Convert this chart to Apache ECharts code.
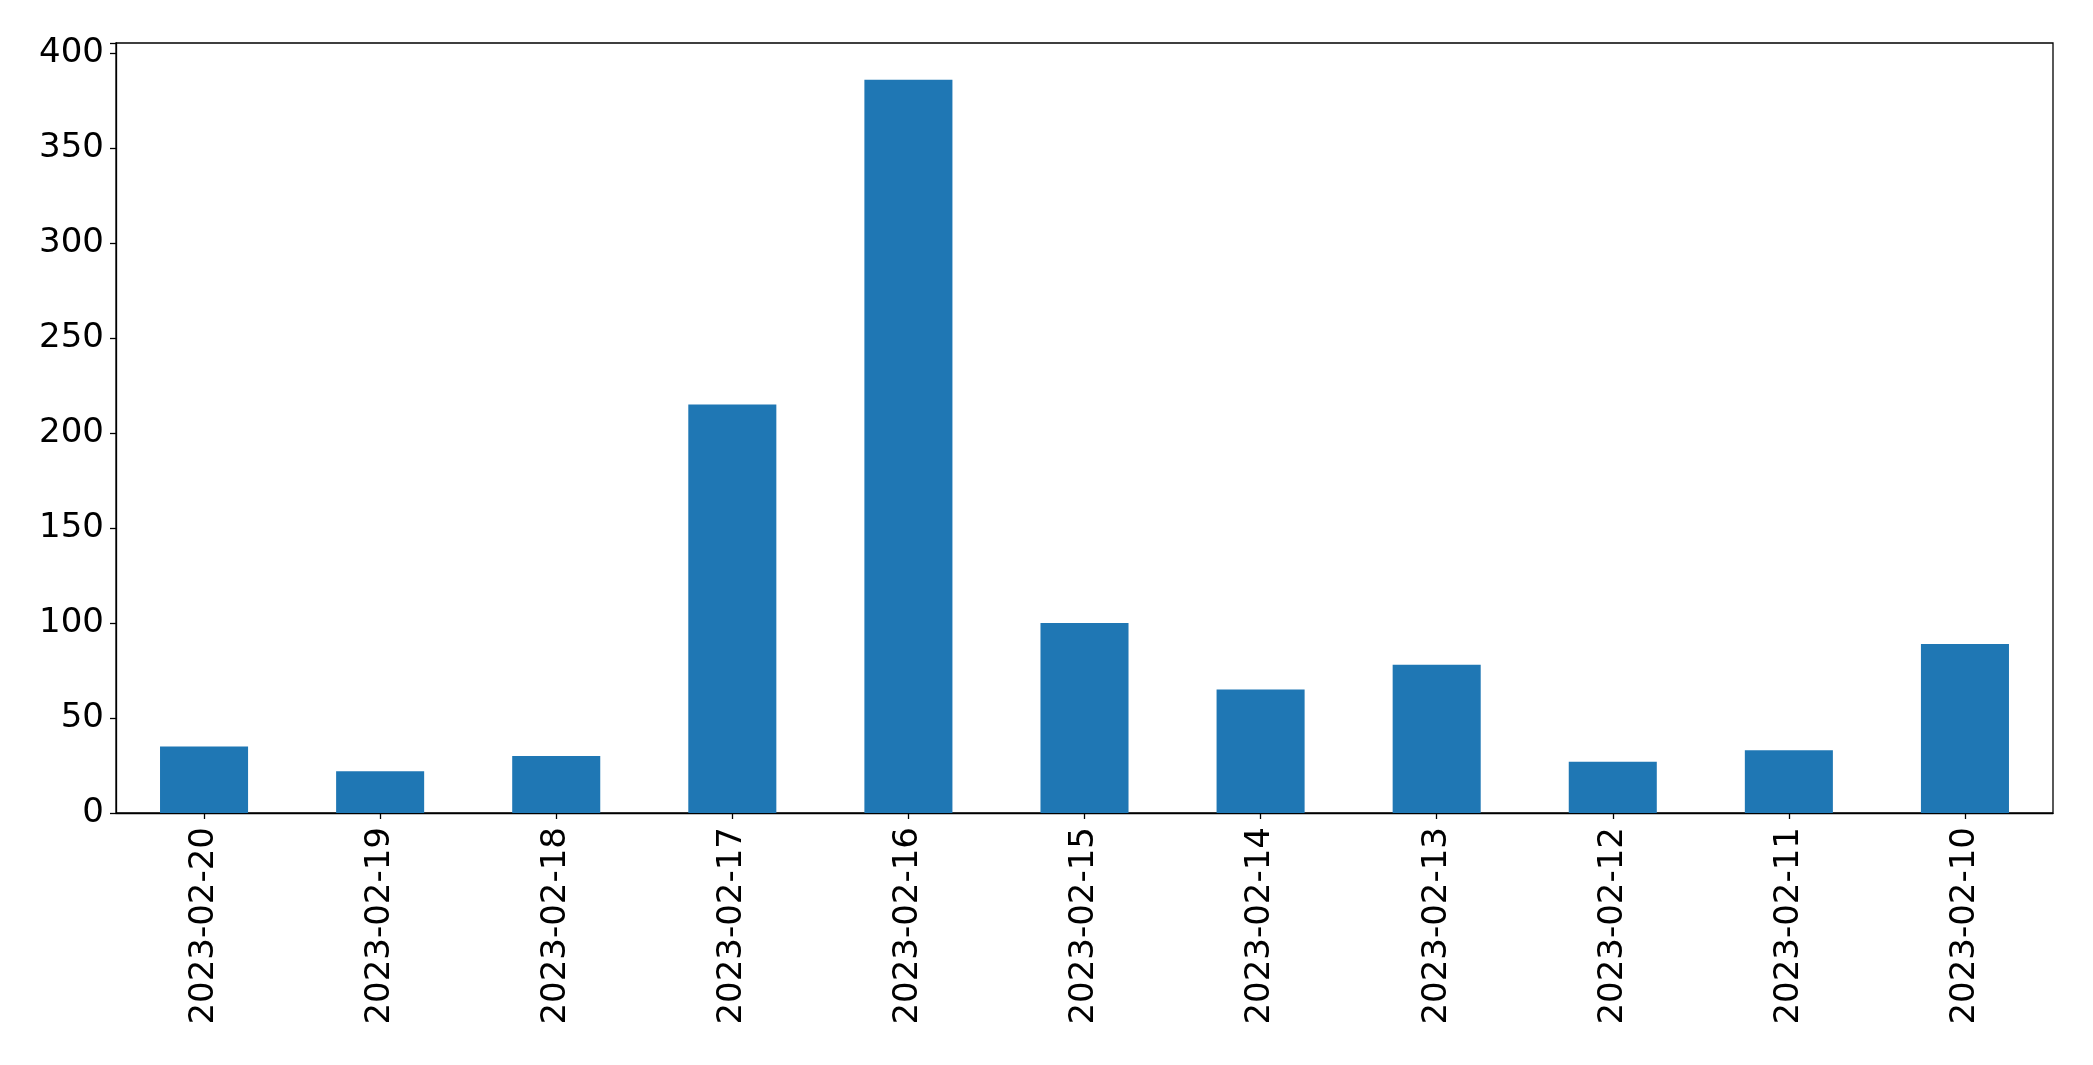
<!DOCTYPE html>
<html>
<head>
<meta charset="utf-8">
<script src="https://cdn.jsdelivr.net/npm/echarts@6/dist/echarts.min.js"></script>
<style>
html,body{margin:0;padding:0;background:#fff;}
#chart{width:2093px;height:1065px;}
</style>
</head>
<body>
<div id="chart"></div>
<script>
const categories = ['2023-02-20','2023-02-19','2023-02-18','2023-02-17','2023-02-16','2023-02-15','2023-02-14','2023-02-13','2023-02-12','2023-02-11','2023-02-10'];
const values = [35, 22, 30, 215, 386, 100, 65, 78, 27, 33, 89];
const yTicks = [0, 50, 100, 150, 200, 250, 300, 350, 400];

const chart = echarts.init(document.getElementById('chart'), null, {renderer: 'canvas'});
const font = 'DejaVu Sans';
chart.setOption({
  animation: false,
  backgroundColor: '#ffffff',
  grid: {
    left: 116, right: 40, top: 43, bottom: 252,
    show: true, borderColor: '#000', borderWidth: 1.3, backgroundColor: 'transparent'
  },
  xAxis: {
    type: 'category',
    data: categories,
    boundaryGap: true,
    axisLine: {show: true, lineStyle: {color: '#000', width: 1.3}},
    axisTick: {show: true, alignWithLabel: true, length: 6, lineStyle: {color: '#000', width: 1.3}},
    axisLabel: {rotate: 90, fontFamily: font, fontSize: 34, color: '#000', margin: 14, interval: 0},
    splitLine: {show: false}
  },
  yAxis: {
    type: 'value',
    min: 0,
    max: 405.3,
    interval: 50,
    axisLine: {show: true, lineStyle: {color: '#000', width: 1.3}},
    axisTick: {show: true, length: 6, lineStyle: {color: '#000', width: 1.3}},
    axisLabel: {
      fontFamily: font, fontSize: 34, color: '#000', margin: 12,
      formatter: function (v) { return yTicks.indexOf(v) >= 0 ? String(v) : ''; }
    },
    splitLine: {show: false}
  },
  series: [{
    type: 'bar',
    data: values,
    barWidth: '50%',
    itemStyle: {color: '#1f77b4'}
  }]
});
</script>
</body>
</html>
